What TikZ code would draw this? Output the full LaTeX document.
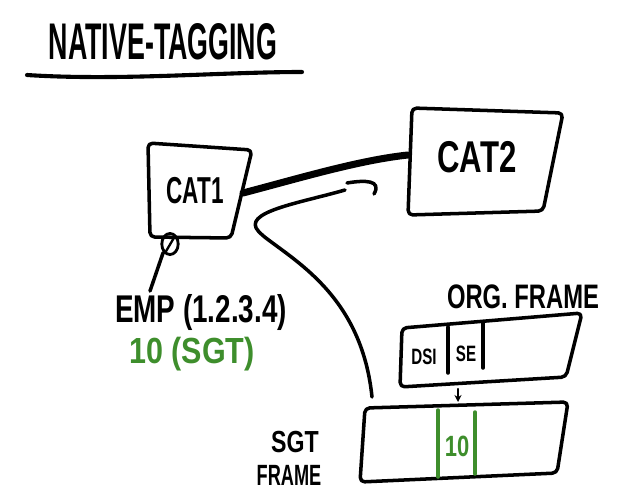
\documentclass[tikz,border=0pt]{standalone}
\usepackage{fontspec}
\setmainfont{Liberation Sans}
\usepackage{graphicx}
\usetikzlibrary{arrows.meta}
\usetikzlibrary{shapes.geometric}

\definecolor{pengreen}{RGB}{62,142,44}
\newcommand{\narrow}[2]{\scalebox{#1}[1]{#2}}

\begin{document}
\begin{tikzpicture}[x=0.03cm,y=-0.03cm,
pen/.style={line width=3pt,line cap=round,line join=round,rounded corners=4pt},
fat/.style={line width=6pt,line cap=round},
hand/.style={inner sep=0pt,font=\fontsize{#1pt}{#1pt}\selectfont\bfseries}]
\useasboundingbox (0,0) rectangle (623,499);

% title
\node[hand=44] (title) at (163,42) {\narrow{0.52}{NATIVE-TAGGING}};
\draw[pen,line width=3.5pt] (27,75) .. controls (120,81) and (220,72) .. (302,72);

% the two switches
\draw[pen] (148,143) -- (252,150) -- (231,238) -- (150,237) -- cycle;
\node[hand=32] (cat1) at (195,191) {\narrow{0.6}{CAT1}};
\draw[pen] (412,108) -- (563,113) -- (543,211) -- (408,215) -- cycle;
\node[hand=38] (cat2) at (477,157) {\narrow{0.7}{CAT2}};
\coordinate (cat1r) at (243,193);
\coordinate (cat2l) at (408,155);
\draw[fat] (cat1r) .. controls (300,178) and (360,160) .. (cat2l);

% port and endpoint
\node[ellipse,draw,line width=2.4pt,minimum width=14pt,minimum height=18pt,inner sep=0pt] (tag) at (170,244) {};
\draw[line width=2pt,line cap=round] (165,253) -- (175,236);
\node[hand=33] (emp) at (201,312) {\narrow{0.72}{EMP (1.2.3.4)}};
\node[hand=31,text=pengreen] (sgt) at (192,354) {\narrow{0.84}{10 (SGT)}};
\coordinate (lead) at (150,291);
\draw[pen] (tag.south west) -- (lead);

% frames
\node[hand=29] (orglbl) at (523,297) {\narrow{0.7}{ORG. FRAME}};
\draw[pen] (402,328) -- (582,313) -- (566,377) -- (400,387) -- cycle;
\draw[pen] (448,327) -- (448,373) (483,323) -- (483,368);
\node[hand=19] (dsi) at (424,357) {\narrow{0.68}{DSI}};
\node[hand=19] (se) at (466,354) {\narrow{0.68}{SE}};
\coordinate (orgb) at (458,389);
\coordinate (sgtt) at (458,402);
\draw[line width=2pt,line cap=round,-{Stealth[length=6pt,width=6pt]}] (orgb) -- (sgtt);

\draw[pen] (365,408) -- (568,402) -- (557,473) -- (360,482) -- cycle;
\draw[pen,pengreen] (438,410) -- (438,477) (475,412) -- (475,474);
\node[hand=25,text=pengreen] (ten) at (457,446) {\narrow{0.75}{10}};
\node[hand=26] (sgtlbl) at (295,442) {\narrow{0.76}{SGT}};
\node[hand=25] (framelbl) at (289,475) {\narrow{0.62}{FRAME}};

% path of the frame
\coordinate (hook) at (347,183);
\coordinate (start) at (345,190);
\coordinate (sgtl) at (372,397);
\draw[pen] (hook) .. controls (365,180) and (382,180) .. (374,194);
\draw[pen] (start) .. controls (300,203) and (240,212) .. (262,235)
  .. controls (300,264) and (362,300) .. (sgtl);
\end{tikzpicture}
\end{document}
